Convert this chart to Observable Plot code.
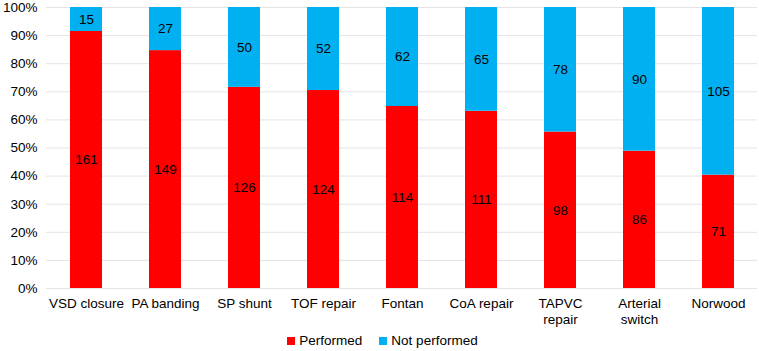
<!DOCTYPE html>
<html><head><meta charset="utf-8">
<script src="https://cdn.jsdelivr.net/npm/d3@7"></script>
<script src="https://cdn.jsdelivr.net/npm/@observablehq/plot@0.6"></script>
<style>
body{margin:0;background:#fff;font-family:"Liberation Sans",Arial,sans-serif;}
#legend{display:flex;justify-content:center;gap:17px;font-size:13.5px;color:#000;height:21px;align-items:center;margin-left:6px}
#legend span.sw{display:inline-block;width:8px;height:8px;margin-right:4px}
</style></head><body>
<div id="chart"></div>
<div id="legend"></div>
<script>
const categories = ["VSD closure","PA banding","SP shunt","TOF repair","Fontan","CoA repair","TAPVC\nrepair","Arterial\nswitch","Norwood"];
const performed = [161,149,126,124,114,111,98,86,71];
const notPerformed = [15,27,50,52,62,65,78,90,105];
const seriesNames = ["Performed","Not performed"];
const colors = ["#FF0000","#00B0F0"];
const yTicks = [0,0.1,0.2,0.3,0.4,0.5,0.6,0.7,0.8,0.9,1];

const data = [];
categories.forEach((c,i)=>{
  data.push({cat:c, series:seriesNames[0], value:performed[i]});
  data.push({cat:c, series:seriesNames[1], value:notPerformed[i]});
});

const plot = Plot.plot({
  width:759, height:330,
  marginTop:7, marginBottom:42, marginLeft:46, marginRight:2,
  style:{fontFamily:"'Liberation Sans',Arial,sans-serif", fontSize:"13.5px", color:"#000"},
  x:{domain:categories, paddingInner:0.6, paddingOuter:0.3, label:null},
  y:{domain:[0,1], label:null},
  color:{domain:seriesNames, range:colors},
  marks:[
    Plot.gridY(yTicks,{stroke:"#e4e4e4", strokeOpacity:1}),
    Plot.barY(data, Plot.stackY({offset:"normalize", order:null},{x:"cat", y:"value", fill:"series"})),
    Plot.text(data, Plot.stackY({offset:"normalize", order:null},{x:"cat", y:"value", z:"series", text:d=>String(d.value), fill:"#000", fontSize:13.5})),
    Plot.axisY(yTicks,{tickFormat:d=>Math.round(d*100)+"%", tickSize:0, tickPadding:9, fontSize:13.5}),
    Plot.axisX({tickSize:0, tickPadding:8, fontSize:13.5, lineHeight:1.2})
  ]
});
document.getElementById("chart").appendChild(plot);

const lg = document.getElementById("legend");
seriesNames.forEach((s,i)=>{
  const d = document.createElement("div");
  d.innerHTML = `<span class="sw" style="background:${colors[i]}"></span>${s}`;
  lg.appendChild(d);
});
</script>
</body></html>
